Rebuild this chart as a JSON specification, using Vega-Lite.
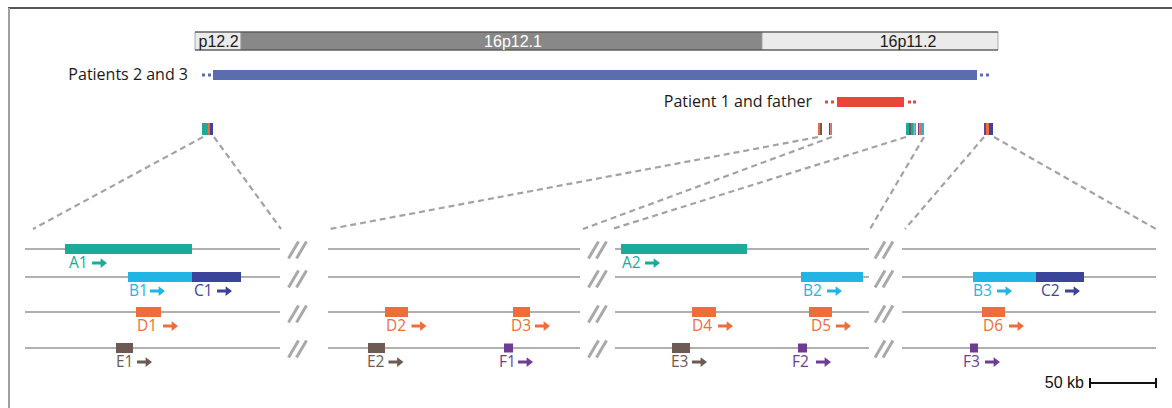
{
  "$schema": "https://vega.github.io/schema/vega-lite/v6.json",
  "width": 1172,
  "height": 408,
  "autosize": "none",
  "padding": 0,
  "background": "white",
  "config": {"view": {"stroke": null}},
  "datasets": {
    "frame": [
      {"x0": 8, "x1": 1172, "y0": 8, "y1": 8, "part": "top"},
      {"x0": 9, "x1": 9, "y0": 8, "y1": 408, "part": "left"}
    ],
    "bands": [
      {"name": "p12.2", "x0": 195, "x1": 241, "family": "light"},
      {"name": "16p12.1", "x0": 241, "x1": 762, "family": "dark"},
      {"name": "16p11.2", "x0": 762, "x1": 998, "family": "light"}
    ],
    "bandEdges": [
      {"x0": 195, "x1": 998, "y": 32},
      {"x0": 195, "x1": 998, "y": 50}
    ],
    "bandLabels": [
      {"label": "p12.2", "x": 218.5, "y": 41.5},
      {"label": "16p12.1", "x": 513, "y": 41.5},
      {"label": "16p11.2", "x": 908, "y": 41.5}
    ],
    "cnv": [
      {"x0": 213, "x1": 977, "y0": 70, "y1": 80, "family": "p23"},
      {"x0": 202, "x1": 205, "y0": 73.5, "y1": 76.5, "family": "p23"},
      {"x0": 208, "x1": 211, "y0": 73.5, "y1": 76.5, "family": "p23"},
      {"x0": 980, "x1": 983, "y0": 73.5, "y1": 76.5, "family": "p23"},
      {"x0": 986, "x1": 989, "y0": 73.5, "y1": 76.5, "family": "p23"},
      {"x0": 837, "x1": 904, "y0": 97, "y1": 107, "family": "p1"},
      {"x0": 825, "x1": 828, "y0": 100.5, "y1": 103.5, "family": "p1"},
      {"x0": 831, "x1": 834, "y0": 100.5, "y1": 103.5, "family": "p1"},
      {"x0": 908, "x1": 911, "y0": 100.5, "y1": 103.5, "family": "p1"},
      {"x0": 913, "x1": 916, "y0": 100.5, "y1": 103.5, "family": "p1"}
    ],
    "cnvLabels": [
      {"label": "Patients 2 and 3", "x": 188, "y": 75},
      {"label": "Patient 1 and father", "x": 812, "y": 102}
    ],
    "stripes": [
      {"x0": 202, "x1": 208, "family": "A"},
      {"x0": 208, "x1": 209.5, "family": "D"},
      {"x0": 209.5, "x1": 213, "family": "C"},
      {"x0": 818, "x1": 820, "family": "D"},
      {"x0": 820, "x1": 822, "family": "E"},
      {"x0": 829, "x1": 830.5, "family": "F"},
      {"x0": 830.5, "x1": 832, "family": "D"},
      {"x0": 906, "x1": 909, "family": "A"},
      {"x0": 909, "x1": 911, "family": "E"},
      {"x0": 911, "x1": 913, "family": "A"},
      {"x0": 913, "x1": 914.5, "family": "D"},
      {"x0": 914.5, "x1": 916, "family": "B"},
      {"x0": 918, "x1": 919.5, "family": "F"},
      {"x0": 919.5, "x1": 921, "family": "D"},
      {"x0": 921, "x1": 924, "family": "B"},
      {"x0": 984, "x1": 986, "family": "F"},
      {"x0": 986, "x1": 989, "family": "D"},
      {"x0": 989, "x1": 993, "family": "C"}
    ],
    "zoomLines": [
      {"x0": 203, "y0": 137, "x1": 33, "y1": 229},
      {"x0": 214, "y0": 137, "x1": 281, "y1": 229},
      {"x0": 818, "y0": 137, "x1": 330, "y1": 229},
      {"x0": 832, "y0": 137, "x1": 583, "y1": 229},
      {"x0": 906, "y0": 137, "x1": 612, "y1": 229},
      {"x0": 924, "y0": 137, "x1": 870, "y1": 229},
      {"x0": 984, "y0": 137, "x1": 905, "y1": 229},
      {"x0": 994, "y0": 137, "x1": 1156, "y1": 229}
    ],
    "tracks": [
      {"x0": 25, "x1": 280, "y": 249}, {"x0": 25, "x1": 280, "y": 277}, {"x0": 25, "x1": 280, "y": 312}, {"x0": 25, "x1": 280, "y": 348},
      {"x0": 328, "x1": 580, "y": 249}, {"x0": 328, "x1": 580, "y": 277}, {"x0": 328, "x1": 580, "y": 312}, {"x0": 328, "x1": 580, "y": 348},
      {"x0": 615, "x1": 869, "y": 249}, {"x0": 615, "x1": 869, "y": 277}, {"x0": 615, "x1": 869, "y": 312}, {"x0": 615, "x1": 869, "y": 348},
      {"x0": 902, "x1": 1156, "y": 249}, {"x0": 902, "x1": 1156, "y": 277}, {"x0": 902, "x1": 1156, "y": 312}, {"x0": 902, "x1": 1156, "y": 348}
    ],
    "breaks": [
      {"x": 297.5, "y": 250}, {"x": 297.5, "y": 279}, {"x": 297.5, "y": 314}, {"x": 297.5, "y": 349},
      {"x": 597.5, "y": 250}, {"x": 597.5, "y": 279}, {"x": 597.5, "y": 314}, {"x": 597.5, "y": 349},
      {"x": 884, "y": 250}, {"x": 884, "y": 279}, {"x": 884, "y": 314}, {"x": 884, "y": 349}
    ],
    "genes": [
      {"gene": "A1", "family": "A", "x0": 65, "x1": 192, "y0": 244, "y1": 254},
      {"gene": "B1", "family": "B", "x0": 128, "x1": 192, "y0": 272, "y1": 282},
      {"gene": "C1", "family": "C", "x0": 192, "x1": 241, "y0": 272, "y1": 282},
      {"gene": "D1", "family": "D", "x0": 136, "x1": 161, "y0": 307, "y1": 317},
      {"gene": "E1", "family": "E", "x0": 116, "x1": 133, "y0": 343, "y1": 353},
      {"gene": "D2", "family": "D", "x0": 385, "x1": 408, "y0": 307, "y1": 317},
      {"gene": "D3", "family": "D", "x0": 513, "x1": 530, "y0": 307, "y1": 317},
      {"gene": "E2", "family": "E", "x0": 368, "x1": 385, "y0": 343, "y1": 353},
      {"gene": "F1", "family": "F", "x0": 504, "x1": 513, "y0": 343.5, "y1": 352.5},
      {"gene": "A2", "family": "A", "x0": 621, "x1": 747, "y0": 244, "y1": 254},
      {"gene": "B2", "family": "B", "x0": 801, "x1": 863, "y0": 272, "y1": 282},
      {"gene": "D4", "family": "D", "x0": 692, "x1": 716, "y0": 307, "y1": 317},
      {"gene": "D5", "family": "D", "x0": 809, "x1": 832, "y0": 307, "y1": 317},
      {"gene": "E3", "family": "E", "x0": 672, "x1": 690, "y0": 343, "y1": 353},
      {"gene": "F2", "family": "F", "x0": 798, "x1": 807, "y0": 343.5, "y1": 352.5},
      {"gene": "B3", "family": "B", "x0": 973, "x1": 1036, "y0": 272, "y1": 282},
      {"gene": "C2", "family": "C", "x0": 1036, "x1": 1084, "y0": 272, "y1": 282},
      {"gene": "D6", "family": "D", "x0": 982, "x1": 1005, "y0": 307, "y1": 317},
      {"gene": "F3", "family": "F", "x0": 970, "x1": 978, "y0": 343.5, "y1": 352.5}
    ],
    "labels": [
      {"gene": "A1", "family": "A", "x": 69, "y": 263, "ax": 99.5},
      {"gene": "B1", "family": "B", "x": 129, "y": 291, "ax": 157.5},
      {"gene": "C1", "family": "C", "x": 194, "y": 291, "ax": 224.5},
      {"gene": "D1", "family": "D", "x": 137, "y": 326, "ax": 170.5},
      {"gene": "E1", "family": "E", "x": 116, "y": 362, "ax": 144.5},
      {"gene": "D2", "family": "D", "x": 386, "y": 326, "ax": 419},
      {"gene": "D3", "family": "D", "x": 511, "y": 326, "ax": 542.5},
      {"gene": "E2", "family": "E", "x": 367, "y": 362, "ax": 396},
      {"gene": "F1", "family": "F", "x": 499, "y": 362, "ax": 525.5},
      {"gene": "A2", "family": "A", "x": 622, "y": 263, "ax": 652.5},
      {"gene": "B2", "family": "B", "x": 803, "y": 291, "ax": 834.5},
      {"gene": "D4", "family": "D", "x": 692, "y": 326, "ax": 725.5},
      {"gene": "D5", "family": "D", "x": 811, "y": 326, "ax": 843.5},
      {"gene": "E3", "family": "E", "x": 671, "y": 362, "ax": 699.5},
      {"gene": "F2", "family": "F", "x": 792, "y": 362, "ax": 823.5},
      {"gene": "B3", "family": "B", "x": 973, "y": 291, "ax": 1004.5},
      {"gene": "C2", "family": "C", "x": 1041, "y": 291, "ax": 1072.5},
      {"gene": "D6", "family": "D", "x": 983, "y": 326, "ax": 1016.5},
      {"gene": "F3", "family": "F", "x": 963, "y": 362, "ax": 992.5}
    ],
    "scaleBar": [
      {"x0": 1090, "x1": 1156, "y0": 383, "y1": 383},
      {"x0": 1090, "x1": 1090, "y0": 378, "y1": 388},
      {"x0": 1156, "x1": 1156, "y0": 378, "y1": 388}
    ],
    "scaleText": [{"label": "50 kb", "x": 1084, "y": 383}]
  },
  "layer": [
    {
      "data": {"name": "frame"},
      "mark": {"type": "rule", "strokeWidth": 2},
      "encoding": {
        "x": {"field": "x0", "type": "quantitative", "scale": {"domain": [0, 1172], "nice": false, "zero": false}, "axis": null},
        "x2": {"field": "x1"},
        "y": {"field": "y0", "type": "quantitative", "scale": {"domain": [0, 408], "nice": false, "zero": false, "reverse": true}, "axis": null},
        "y2": {"field": "y1"},
        "color": {"condition": {"test": "datum.part === 'top'", "value": "#555555"}, "value": "#a0a0a0"}
      }
    },
    {
      "data": {"name": "bands"},
      "mark": {"type": "rect", "stroke": "#9a9a9a", "strokeWidth": 0.8},
      "encoding": {
        "x": {"field": "x0", "type": "quantitative", "axis": null},
        "x2": {"field": "x1"},
        "y": {"datum": 32, "type": "quantitative", "axis": null},
        "y2": {"datum": 50},
        "fill": {"field": "family", "type": "nominal", "legend": null,
          "scale": {"domain": ["light", "dark"], "range": ["#ebebeb", "#888888"]}}
      }
    },
    {
      "data": {"name": "bandEdges"},
      "mark": {"type": "rule", "strokeWidth": 1.2, "color": "#3c3c3c"},
      "encoding": {
        "x": {"field": "x0", "type": "quantitative", "axis": null},
        "x2": {"field": "x1"},
        "y": {"field": "y", "type": "quantitative", "axis": null}
      }
    },
    {
      "data": {"name": "bandLabels"},
      "mark": {"type": "text", "font": "Liberation Sans", "fontSize": 16, "align": "center", "baseline": "middle"},
      "encoding": {
        "x": {"field": "x", "type": "quantitative", "axis": null},
        "y": {"field": "y", "type": "quantitative", "axis": null},
        "text": {"field": "label"},
        "color": {"condition": {"test": "datum.label === '16p12.1'", "value": "#ffffff"}, "value": "#1a1a1a"}
      }
    },
    {
      "data": {"name": "cnv"},
      "mark": {"type": "rect"},
      "encoding": {
        "x": {"field": "x0", "type": "quantitative", "axis": null},
        "x2": {"field": "x1"},
        "y": {"field": "y0", "type": "quantitative", "axis": null},
        "y2": {"field": "y1"},
        "color": {"condition": {"test": "datum.family === 'p23'", "value": "#5a6dae"}, "value": "#e8453b"}
      }
    },
    {
      "data": {"name": "cnvLabels"},
      "mark": {"type": "text", "font": "Open Sans", "fontSize": 16, "align": "right", "baseline": "middle", "color": "#1a1a1a"},
      "encoding": {
        "x": {"field": "x", "type": "quantitative", "axis": null},
        "y": {"field": "y", "type": "quantitative", "axis": null},
        "text": {"field": "label"}
      }
    },
    {
      "data": {"name": "zoomLines"},
      "mark": {"type": "rule", "strokeWidth": 2.2, "strokeDash": [6, 4], "color": "#a3a3a3"},
      "encoding": {
        "x": {"field": "x0", "type": "quantitative", "axis": null},
        "x2": {"field": "x1"},
        "y": {"field": "y0", "type": "quantitative", "axis": null},
        "y2": {"field": "y1"}
      }
    },
    {
      "data": {"name": "stripes"},
      "mark": {"type": "rect"},
      "encoding": {
        "x": {"field": "x0", "type": "quantitative", "axis": null},
        "x2": {"field": "x1"},
        "y": {"datum": 123, "type": "quantitative", "axis": null},
        "y2": {"datum": 135},
        "color": {"field": "family", "type": "nominal", "legend": null,
          "scale": {"domain": ["A", "B", "C", "D", "E", "F"], "range": ["#1aab9b", "#22b4e5", "#3a449a", "#ef6d3a", "#6c5a53", "#6e3d91"]}}
      }
    },
    {
      "data": {"name": "tracks"},
      "mark": {"type": "rule", "strokeWidth": 2, "color": "#b0b0b0"},
      "encoding": {
        "x": {"field": "x0", "type": "quantitative", "axis": null},
        "x2": {"field": "x1"},
        "y": {"field": "y", "type": "quantitative", "axis": null}
      }
    },
    {
      "data": {"name": "breaks"},
      "mark": {"type": "point", "shape": "M-0.9,0.85L0.1,-0.85M-0.1,0.85L0.9,-0.85", "filled": false, "size": 400, "strokeWidth": 3, "color": "#a9a9a9", "opacity": 1},
      "encoding": {
        "x": {"field": "x", "type": "quantitative", "axis": null},
        "y": {"field": "y", "type": "quantitative", "axis": null}
      }
    },
    {
      "data": {"name": "genes"},
      "mark": {"type": "rect"},
      "encoding": {
        "x": {"field": "x0", "type": "quantitative", "axis": null},
        "x2": {"field": "x1"},
        "y": {"field": "y0", "type": "quantitative", "axis": null},
        "y2": {"field": "y1"},
        "color": {"field": "family", "type": "nominal", "legend": null,
          "scale": {"domain": ["A", "B", "C", "D", "E", "F"], "range": ["#1aab9b", "#22b4e5", "#3a449a", "#ef6d3a", "#6c5a53", "#6e3d91"]}}
      }
    },
    {
      "data": {"name": "labels"},
      "mark": {"type": "text", "font": "Open Sans", "fontSize": 15.5, "align": "left", "baseline": "middle"},
      "encoding": {
        "x": {"field": "x", "type": "quantitative", "axis": null},
        "y": {"field": "y", "type": "quantitative", "axis": null},
        "text": {"field": "gene"},
        "color": {"field": "family", "type": "nominal", "legend": null,
          "scale": {"domain": ["A", "B", "C", "D", "E", "F"], "range": ["#1aab9b", "#22b4e5", "#3a449a", "#ef6d3a", "#6c5a53", "#6e3d91"]}}
      }
    },
    {
      "data": {"name": "labels"},
      "mark": {"type": "point", "shape": "M-1,-0.2L0.15,-0.2L0.15,-0.65L1,0L0.15,0.65L0.15,0.2L-1,0.2Z", "filled": true, "size": 225, "opacity": 1},
      "encoding": {
        "x": {"field": "ax", "type": "quantitative", "axis": null},
        "y": {"field": "y", "type": "quantitative", "axis": null},
        "color": {"field": "family", "type": "nominal", "legend": null,
          "scale": {"domain": ["A", "B", "C", "D", "E", "F"], "range": ["#1aab9b", "#22b4e5", "#3a449a", "#ef6d3a", "#6c5a53", "#6e3d91"]}}
      }
    },
    {
      "data": {"name": "scaleBar"},
      "mark": {"type": "rule", "strokeWidth": 2, "color": "#111111"},
      "encoding": {
        "x": {"field": "x0", "type": "quantitative", "axis": null},
        "x2": {"field": "x1"},
        "y": {"field": "y0", "type": "quantitative", "axis": null},
        "y2": {"field": "y1"}
      }
    },
    {
      "data": {"name": "scaleText"},
      "mark": {"type": "text", "font": "Liberation Sans", "fontSize": 16, "align": "right", "baseline": "middle", "color": "#111111"},
      "encoding": {
        "x": {"field": "x", "type": "quantitative", "axis": null},
        "y": {"field": "y", "type": "quantitative", "axis": null},
        "text": {"field": "label"}
      }
    }
  ]
}
